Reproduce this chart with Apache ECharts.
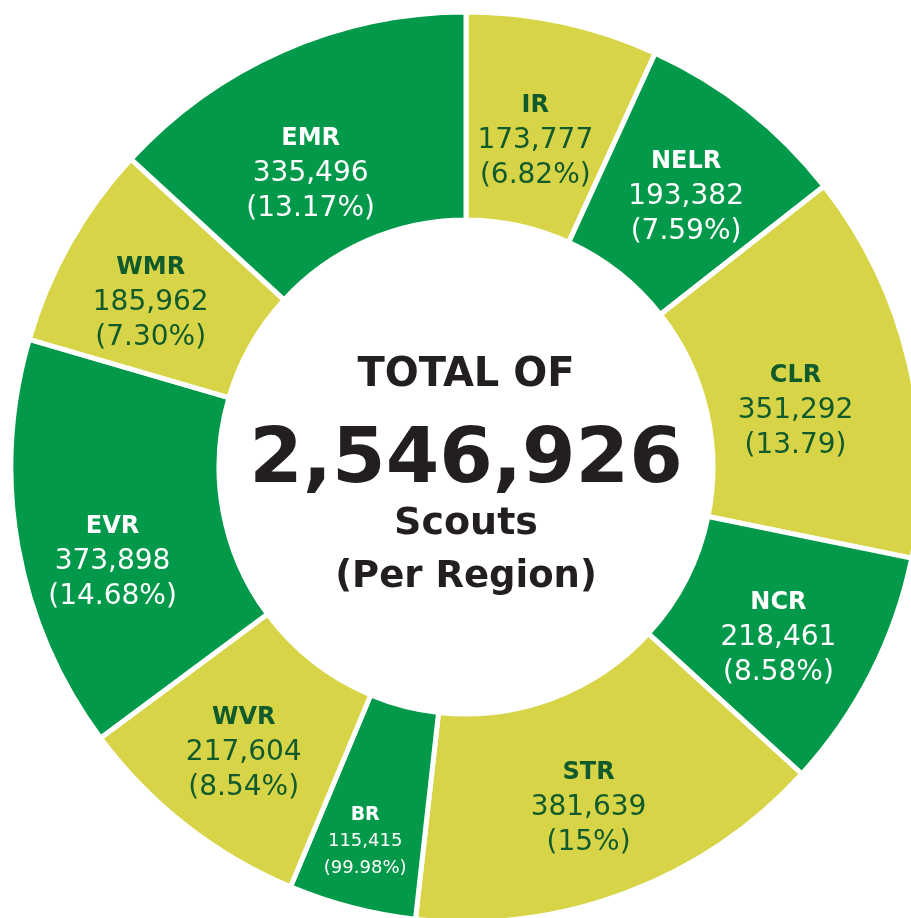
<!DOCTYPE html>
<html>
<head>
<meta charset="utf-8">
<script src="https://cdn.jsdelivr.net/npm/echarts@6/dist/echarts.min.js"></script>
<style>
  html, body { margin: 0; padding: 0; background: #fff; }
  #main { width: 911px; height: 918px; }
</style>
</head>
<body>
<div id="main"></div>
<script>
var regions = ['IR', 'NELR', 'CLR', 'NCR', 'STR', 'BR', 'WVR', 'EVR', 'WMR', 'EMR'];
var scouts = [173777, 193382, 351292, 218461, 381639, 115415, 217604, 373898, 185962, 335496];
// percent labels as printed on the original
var pctLabels = ['(6.82%)', '(7.59%)', '(13.79)', '(8.58%)', '(15%)', '(99.98%)', '(8.54%)', '(14.68%)', '(7.30%)', '(13.17%)'];
var totalText = '2,546,926';

var GREEN = '#029a4a';
var YELLOW = '#d7d447';
var DARK = '#115a2c';

// nudge labels a little from the default mid-ring spot
var labelShift = [[-6, 20], [1, 8], [-15, 25], [-3, 10], [-2, 9], [-12, 32], [-4, 7], [-5, 32], [-7, 10], [-13, 31]];

function fmt(n) {
    return String(n).replace(/\B(?=(\d{3})+(?!\d))/g, ',');
}

var dom = document.getElementById('main');
var myChart = echarts.init(dom);

var pieData = regions.map(function (name, i) {
    var yellow = i % 2 === 0;
    var small = name === 'BR';
    var txt = yellow ? DARK : '#ffffff';
    return {
        name: name,
        value: scouts[i],
        itemStyle: { color: yellow ? YELLOW : GREEN },
        label: {
            rich: {
                n: { color: txt, fontSize: small ? 19 : 24, fontWeight: 'bold', fontFamily: 'DejaVu Sans', lineHeight: small ? 27 : 35 },
                v: { color: txt, fontSize: small ? 18 : 28, fontFamily: 'DejaVu Sans', lineHeight: small ? 27 : 35 }
            }
        }
    };
});

option = {
    backgroundColor: '#ffffff',
    animation: false,
    series: [
        {
            type: 'pie',
            center: [466, 467],
            radius: [247, 455],
            startAngle: 90,
            clockwise: true,
            avoidLabelOverlap: false,
            silent: true,
            itemStyle: {
                borderColor: '#ffffff',
                borderWidth: 5
            },
            label: {
                show: true,
                position: 'inside',
                formatter: function (p) {
                    return '{n|' + p.name + '}\n{v|' + fmt(p.value) + '}\n{v|' + pctLabels[p.dataIndex] + '}';
                }
            },
            labelLayout: function (params) {
                var s = labelShift[params.dataIndex];
                return { dx: s[0], dy: s[1] };
            },
            labelLine: { show: false },
            emphasis: { disabled: true },
            data: pieData
        }
    ],
    graphic: [
        {
            type: 'text', x: 466, y: 376,
            style: { text: 'TOTAL OF', font: 'bold 40px "DejaVu Sans"', fill: '#231f20', textAlign: 'center', textVerticalAlign: 'middle' }
        },
        {
            type: 'text', x: 466, y: 462,
            style: { text: totalText, font: 'bold 77px "DejaVu Sans"', fill: '#231f20', textAlign: 'center', textVerticalAlign: 'middle' }
        },
        {
            type: 'text', x: 466, y: 524,
            style: { text: 'Scouts', font: 'bold 38px "DejaVu Sans"', fill: '#231f20', textAlign: 'center', textVerticalAlign: 'middle' }
        },
        {
            type: 'text', x: 466, y: 577,
            style: { text: '(Per Region)', font: 'bold 37px "DejaVu Sans"', fill: '#231f20', textAlign: 'center', textVerticalAlign: 'middle' }
        }
    ]
};

if (option && typeof option === 'object') {
    myChart.setOption(option, true);
}
window.addEventListener('resize', function () {
    myChart.resize();
});
</script>
</body>
</html>
